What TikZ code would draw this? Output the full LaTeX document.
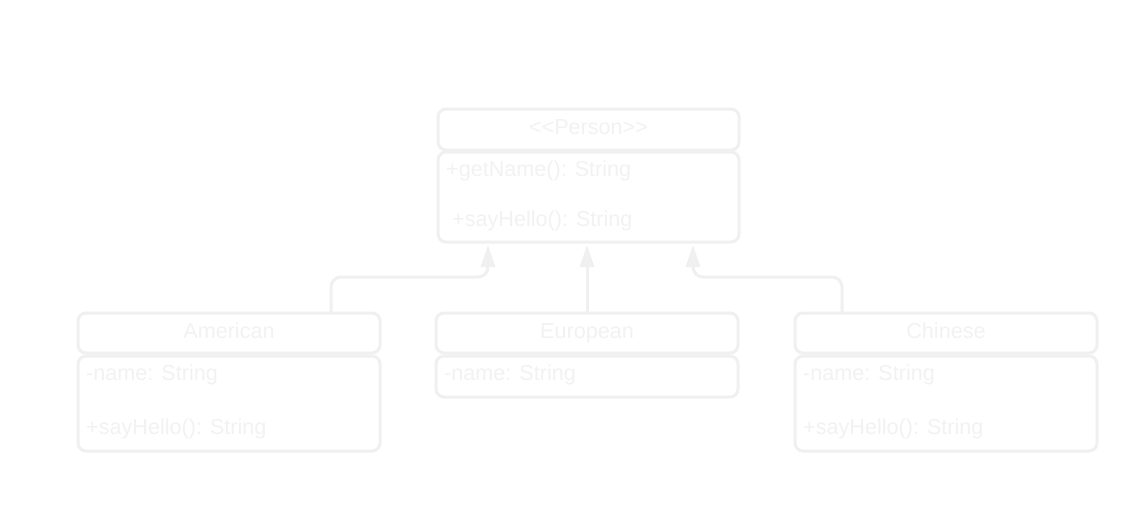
\documentclass[tikz,border=0pt]{standalone}
\usepackage{fontspec}
\setmainfont{Liberation Sans}[Ligatures=TeXOff]
\usetikzlibrary{arrows.meta}
\definecolor{ln}{HTML}{F0F0F0}
\definecolor{tx}{HTML}{F2F2F2}
\begin{document}
\begin{tikzpicture}[x=1pt,y=-1pt,
  box/.style={draw=ln, line width=3pt, rounded corners=8pt, inner sep=0pt, outer sep=0pt, minimum width=302pt},
  lbl/.style={text=tx, font=\fontsize{21.6}{24}\selectfont, inner sep=0pt, anchor=base west},
  ttl/.style={lbl, anchor=base},
  inh/.style={draw=ln, line width=3pt, rounded corners=10pt, -{Triangle[length=22pt,width=14pt]}}]
\useasboundingbox (0,0) rectangle (1140,520);
\fill[white] (0,0) rectangle (1140,520);
% Person
\node[box, minimum width=301pt, minimum height=41pt] (ph) at (588.5,129.5) {};
\node[box, minimum width=301pt, minimum height=90pt] (pb) at (588.5,197) {};
\node[ttl] (pt) at (588.5,134) {<<Person>>};
\node[lbl] (pm1) at (446,176.5) {+getName(): String};
\node[lbl] (pm2) at (452,226.5) {+sayHello(): String};
% American
\node[box, minimum height=40pt] (amh) at (229,333) {};
\node[box, minimum height=95pt] (amb) at (229,403.5) {};
\node[ttl] (amt) at (229,338) {American};
\node[lbl] (am1) at (86,380.5) {-name: String};
\node[lbl] (am2) at (86,434.5) {+sayHello(): String};
% European
\node[box, minimum height=40pt] (euh) at (587,333) {};
\node[box, minimum height=41pt] (eub) at (587,376.5) {};
\node[ttl] (eut) at (587,338) {European};
\node[lbl] (eu1) at (444,380.5) {-name: String};
% Chinese
\node[box, minimum height=40pt] (chh) at (946,333) {};
\node[box, minimum height=95pt] (chb) at (946,403.5) {};
\node[ttl] (cht) at (946,338) {Chinese};
\node[lbl] (ch1) at (803,380.5) {-name: String};
\node[lbl] (ch2) at (803,434.5) {+sayHello(): String};
% connectors
\draw[inh] ([xshift=102pt]amh.north) -- ++(0,-36) -| ([xshift=-100.5pt,yshift=-3pt]pb.south);
\draw[inh] (euh.north) -- ([xshift=-1.5pt,yshift=-3pt]pb.south);
\draw[inh] ([xshift=-104pt]chh.north) -- ++(0,-36) -| ([xshift=104.5pt,yshift=-3pt]pb.south);
\end{tikzpicture}
\end{document}
